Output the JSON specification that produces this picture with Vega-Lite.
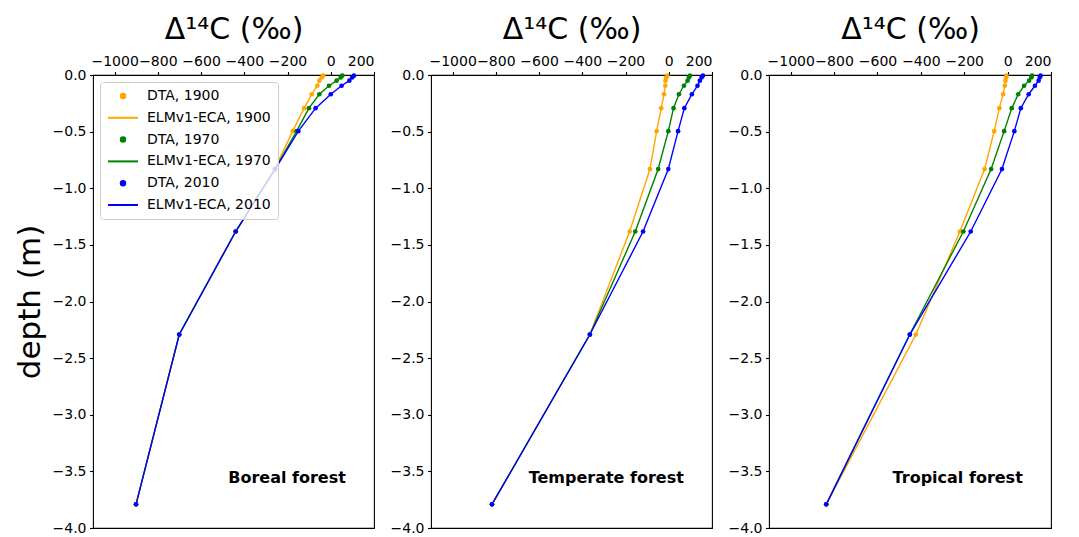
{
  "$schema": "https://vega.github.io/schema/vega-lite/v6.json",
  "padding": {"left": 13, "top": 13, "right": 5, "bottom": 5},
  "background": "white",
  "config": {
    "font": "DejaVu Sans",
    "view": {"stroke": "black", "strokeWidth": 1.1},
    "axis": {
      "domain": false, "grid": false, "tickColor": "black", "tickSize": 3.5, "tickWidth": 1.1,
      "labelFont": "DejaVu Sans", "labelFontSize": 14, "labelColor": "black", "labelPadding": 3.5,
      "titleFont": "DejaVu Sans", "titleFontSize": 30, "titleFontWeight": "normal", "titleColor": "black"
    },
    "text": {"font": "DejaVu Sans"}
  },
  "datasets": {
    "profiles": [
      {"site":"boreal","year":1900,"dta":"DTA, 1900","elm":"ELMv1-ECA, 1900","depth":-0.0057,"d14c":-35},
      {"site":"boreal","year":1900,"dta":"DTA, 1900","elm":"ELMv1-ECA, 1900","depth":-0.0223,"d14c":-42},
      {"site":"boreal","year":1900,"dta":"DTA, 1900","elm":"ELMv1-ECA, 1900","depth":-0.0498,"d14c":-53},
      {"site":"boreal","year":1900,"dta":"DTA, 1900","elm":"ELMv1-ECA, 1900","depth":-0.0951,"d14c":-62},
      {"site":"boreal","year":1900,"dta":"DTA, 1900","elm":"ELMv1-ECA, 1900","depth":-0.1698,"d14c":-88},
      {"site":"boreal","year":1900,"dta":"DTA, 1900","elm":"ELMv1-ECA, 1900","depth":-0.2929,"d14c":-123},
      {"site":"boreal","year":1900,"dta":"DTA, 1900","elm":"ELMv1-ECA, 1900","depth":-0.4958,"d14c":-176},
      {"site":"boreal","year":1900,"dta":"DTA, 1900","elm":"ELMv1-ECA, 1900","depth":-0.8304,"d14c":-260},
      {"site":"boreal","year":1900,"dta":"DTA, 1900","elm":"ELMv1-ECA, 1900","depth":-1.3821,"d14c":-440},
      {"site":"boreal","year":1900,"dta":"DTA, 1900","elm":"ELMv1-ECA, 1900","depth":-2.2917,"d14c":-701},
      {"site":"boreal","year":1900,"dta":"DTA, 1900","elm":"ELMv1-ECA, 1900","depth":-3.7913,"d14c":-901},
      {"site":"boreal","year":1970,"dta":"DTA, 1970","elm":"ELMv1-ECA, 1970","depth":-0.0057,"d14c":53},
      {"site":"boreal","year":1970,"dta":"DTA, 1970","elm":"ELMv1-ECA, 1970","depth":-0.0223,"d14c":46},
      {"site":"boreal","year":1970,"dta":"DTA, 1970","elm":"ELMv1-ECA, 1970","depth":-0.0498,"d14c":27},
      {"site":"boreal","year":1970,"dta":"DTA, 1970","elm":"ELMv1-ECA, 1970","depth":-0.0951,"d14c":-8},
      {"site":"boreal","year":1970,"dta":"DTA, 1970","elm":"ELMv1-ECA, 1970","depth":-0.1698,"d14c":-53},
      {"site":"boreal","year":1970,"dta":"DTA, 1970","elm":"ELMv1-ECA, 1970","depth":-0.2929,"d14c":-101},
      {"site":"boreal","year":1970,"dta":"DTA, 1970","elm":"ELMv1-ECA, 1970","depth":-0.4958,"d14c":-158},
      {"site":"boreal","year":1970,"dta":"DTA, 1970","elm":"ELMv1-ECA, 1970","depth":-0.8304,"d14c":-258},
      {"site":"boreal","year":1970,"dta":"DTA, 1970","elm":"ELMv1-ECA, 1970","depth":-1.3821,"d14c":-440},
      {"site":"boreal","year":1970,"dta":"DTA, 1970","elm":"ELMv1-ECA, 1970","depth":-2.2917,"d14c":-701},
      {"site":"boreal","year":1970,"dta":"DTA, 1970","elm":"ELMv1-ECA, 1970","depth":-3.7913,"d14c":-901},
      {"site":"boreal","year":2010,"dta":"DTA, 2010","elm":"ELMv1-ECA, 2010","depth":-0.0057,"d14c":107},
      {"site":"boreal","year":2010,"dta":"DTA, 2010","elm":"ELMv1-ECA, 2010","depth":-0.0223,"d14c":99},
      {"site":"boreal","year":2010,"dta":"DTA, 2010","elm":"ELMv1-ECA, 2010","depth":-0.0498,"d14c":86},
      {"site":"boreal","year":2010,"dta":"DTA, 2010","elm":"ELMv1-ECA, 2010","depth":-0.0951,"d14c":50},
      {"site":"boreal","year":2010,"dta":"DTA, 2010","elm":"ELMv1-ECA, 2010","depth":-0.1698,"d14c":0},
      {"site":"boreal","year":2010,"dta":"DTA, 2010","elm":"ELMv1-ECA, 2010","depth":-0.2929,"d14c":-70},
      {"site":"boreal","year":2010,"dta":"DTA, 2010","elm":"ELMv1-ECA, 2010","depth":-0.4958,"d14c":-150},
      {"site":"boreal","year":2010,"dta":"DTA, 2010","elm":"ELMv1-ECA, 2010","depth":-0.8304,"d14c":-257},
      {"site":"boreal","year":2010,"dta":"DTA, 2010","elm":"ELMv1-ECA, 2010","depth":-1.3821,"d14c":-440},
      {"site":"boreal","year":2010,"dta":"DTA, 2010","elm":"ELMv1-ECA, 2010","depth":-2.2917,"d14c":-701},
      {"site":"boreal","year":2010,"dta":"DTA, 2010","elm":"ELMv1-ECA, 2010","depth":-3.7913,"d14c":-901},
      {"site":"temperate","year":1900,"dta":"DTA, 1900","elm":"ELMv1-ECA, 1900","depth":-0.0057,"d14c":-7},
      {"site":"temperate","year":1900,"dta":"DTA, 1900","elm":"ELMv1-ECA, 1900","depth":-0.0223,"d14c":-12},
      {"site":"temperate","year":1900,"dta":"DTA, 1900","elm":"ELMv1-ECA, 1900","depth":-0.0498,"d14c":-15},
      {"site":"temperate","year":1900,"dta":"DTA, 1900","elm":"ELMv1-ECA, 1900","depth":-0.0951,"d14c":-16},
      {"site":"temperate","year":1900,"dta":"DTA, 1900","elm":"ELMv1-ECA, 1900","depth":-0.1698,"d14c":-22},
      {"site":"temperate","year":1900,"dta":"DTA, 1900","elm":"ELMv1-ECA, 1900","depth":-0.2929,"d14c":-35},
      {"site":"temperate","year":1900,"dta":"DTA, 1900","elm":"ELMv1-ECA, 1900","depth":-0.4958,"d14c":-56},
      {"site":"temperate","year":1900,"dta":"DTA, 1900","elm":"ELMv1-ECA, 1900","depth":-0.8304,"d14c":-87},
      {"site":"temperate","year":1900,"dta":"DTA, 1900","elm":"ELMv1-ECA, 1900","depth":-1.3821,"d14c":-181},
      {"site":"temperate","year":1900,"dta":"DTA, 1900","elm":"ELMv1-ECA, 1900","depth":-2.2917,"d14c":-365},
      {"site":"temperate","year":1900,"dta":"DTA, 1900","elm":"ELMv1-ECA, 1900","depth":-3.7913,"d14c":-818},
      {"site":"temperate","year":1970,"dta":"DTA, 1970","elm":"ELMv1-ECA, 1970","depth":-0.0057,"d14c":98},
      {"site":"temperate","year":1970,"dta":"DTA, 1970","elm":"ELMv1-ECA, 1970","depth":-0.0223,"d14c":93},
      {"site":"temperate","year":1970,"dta":"DTA, 1970","elm":"ELMv1-ECA, 1970","depth":-0.0498,"d14c":87},
      {"site":"temperate","year":1970,"dta":"DTA, 1970","elm":"ELMv1-ECA, 1970","depth":-0.0951,"d14c":70},
      {"site":"temperate","year":1970,"dta":"DTA, 1970","elm":"ELMv1-ECA, 1970","depth":-0.1698,"d14c":47},
      {"site":"temperate","year":1970,"dta":"DTA, 1970","elm":"ELMv1-ECA, 1970","depth":-0.2929,"d14c":22},
      {"site":"temperate","year":1970,"dta":"DTA, 1970","elm":"ELMv1-ECA, 1970","depth":-0.4958,"d14c":-2},
      {"site":"temperate","year":1970,"dta":"DTA, 1970","elm":"ELMv1-ECA, 1970","depth":-0.8304,"d14c":-49},
      {"site":"temperate","year":1970,"dta":"DTA, 1970","elm":"ELMv1-ECA, 1970","depth":-1.3821,"d14c":-155},
      {"site":"temperate","year":1970,"dta":"DTA, 1970","elm":"ELMv1-ECA, 1970","depth":-2.2917,"d14c":-365},
      {"site":"temperate","year":1970,"dta":"DTA, 1970","elm":"ELMv1-ECA, 1970","depth":-3.7913,"d14c":-818},
      {"site":"temperate","year":2010,"dta":"DTA, 2010","elm":"ELMv1-ECA, 2010","depth":-0.0057,"d14c":158},
      {"site":"temperate","year":2010,"dta":"DTA, 2010","elm":"ELMv1-ECA, 2010","depth":-0.0223,"d14c":152},
      {"site":"temperate","year":2010,"dta":"DTA, 2010","elm":"ELMv1-ECA, 2010","depth":-0.0498,"d14c":144},
      {"site":"temperate","year":2010,"dta":"DTA, 2010","elm":"ELMv1-ECA, 2010","depth":-0.0951,"d14c":133},
      {"site":"temperate","year":2010,"dta":"DTA, 2010","elm":"ELMv1-ECA, 2010","depth":-0.1698,"d14c":107},
      {"site":"temperate","year":2010,"dta":"DTA, 2010","elm":"ELMv1-ECA, 2010","depth":-0.2929,"d14c":72},
      {"site":"temperate","year":2010,"dta":"DTA, 2010","elm":"ELMv1-ECA, 2010","depth":-0.4958,"d14c":43},
      {"site":"temperate","year":2010,"dta":"DTA, 2010","elm":"ELMv1-ECA, 2010","depth":-0.8304,"d14c":-2},
      {"site":"temperate","year":2010,"dta":"DTA, 2010","elm":"ELMv1-ECA, 2010","depth":-1.3821,"d14c":-119},
      {"site":"temperate","year":2010,"dta":"DTA, 2010","elm":"ELMv1-ECA, 2010","depth":-2.2917,"d14c":-365},
      {"site":"temperate","year":2010,"dta":"DTA, 2010","elm":"ELMv1-ECA, 2010","depth":-3.7913,"d14c":-818},
      {"site":"tropical","year":1900,"dta":"DTA, 1900","elm":"ELMv1-ECA, 1900","depth":-0.0057,"d14c":-5},
      {"site":"tropical","year":1900,"dta":"DTA, 1900","elm":"ELMv1-ECA, 1900","depth":-0.0223,"d14c":-7},
      {"site":"tropical","year":1900,"dta":"DTA, 1900","elm":"ELMv1-ECA, 1900","depth":-0.0498,"d14c":-10},
      {"site":"tropical","year":1900,"dta":"DTA, 1900","elm":"ELMv1-ECA, 1900","depth":-0.0951,"d14c":-13},
      {"site":"tropical","year":1900,"dta":"DTA, 1900","elm":"ELMv1-ECA, 1900","depth":-0.1698,"d14c":-21},
      {"site":"tropical","year":1900,"dta":"DTA, 1900","elm":"ELMv1-ECA, 1900","depth":-0.2929,"d14c":-38},
      {"site":"tropical","year":1900,"dta":"DTA, 1900","elm":"ELMv1-ECA, 1900","depth":-0.4958,"d14c":-62},
      {"site":"tropical","year":1900,"dta":"DTA, 1900","elm":"ELMv1-ECA, 1900","depth":-0.8304,"d14c":-106},
      {"site":"tropical","year":1900,"dta":"DTA, 1900","elm":"ELMv1-ECA, 1900","depth":-1.3821,"d14c":-220},
      {"site":"tropical","year":1900,"dta":"DTA, 1900","elm":"ELMv1-ECA, 1900","depth":-2.2917,"d14c":-423},
      {"site":"tropical","year":1900,"dta":"DTA, 1900","elm":"ELMv1-ECA, 1900","depth":-3.7913,"d14c":-836},
      {"site":"tropical","year":1970,"dta":"DTA, 1970","elm":"ELMv1-ECA, 1970","depth":-0.0057,"d14c":113},
      {"site":"tropical","year":1970,"dta":"DTA, 1970","elm":"ELMv1-ECA, 1970","depth":-0.0223,"d14c":109},
      {"site":"tropical","year":1970,"dta":"DTA, 1970","elm":"ELMv1-ECA, 1970","depth":-0.0498,"d14c":99},
      {"site":"tropical","year":1970,"dta":"DTA, 1970","elm":"ELMv1-ECA, 1970","depth":-0.0951,"d14c":76},
      {"site":"tropical","year":1970,"dta":"DTA, 1970","elm":"ELMv1-ECA, 1970","depth":-0.1698,"d14c":49},
      {"site":"tropical","year":1970,"dta":"DTA, 1970","elm":"ELMv1-ECA, 1970","depth":-0.2929,"d14c":19},
      {"site":"tropical","year":1970,"dta":"DTA, 1970","elm":"ELMv1-ECA, 1970","depth":-0.4958,"d14c":-16},
      {"site":"tropical","year":1970,"dta":"DTA, 1970","elm":"ELMv1-ECA, 1970","depth":-0.8304,"d14c":-76},
      {"site":"tropical","year":1970,"dta":"DTA, 1970","elm":"ELMv1-ECA, 1970","depth":-1.3821,"d14c":-204},
      {"site":"tropical","year":1970,"dta":"DTA, 1970","elm":"ELMv1-ECA, 1970","depth":-2.2917,"d14c":-451},
      {"site":"tropical","year":1970,"dta":"DTA, 1970","elm":"ELMv1-ECA, 1970","depth":-3.7913,"d14c":-836},
      {"site":"tropical","year":2010,"dta":"DTA, 2010","elm":"ELMv1-ECA, 2010","depth":-0.0057,"d14c":152},
      {"site":"tropical","year":2010,"dta":"DTA, 2010","elm":"ELMv1-ECA, 2010","depth":-0.0223,"d14c":148},
      {"site":"tropical","year":2010,"dta":"DTA, 2010","elm":"ELMv1-ECA, 2010","depth":-0.0498,"d14c":143},
      {"site":"tropical","year":2010,"dta":"DTA, 2010","elm":"ELMv1-ECA, 2010","depth":-0.0951,"d14c":126},
      {"site":"tropical","year":2010,"dta":"DTA, 2010","elm":"ELMv1-ECA, 2010","depth":-0.1698,"d14c":97},
      {"site":"tropical","year":2010,"dta":"DTA, 2010","elm":"ELMv1-ECA, 2010","depth":-0.2929,"d14c":61},
      {"site":"tropical","year":2010,"dta":"DTA, 2010","elm":"ELMv1-ECA, 2010","depth":-0.4958,"d14c":31},
      {"site":"tropical","year":2010,"dta":"DTA, 2010","elm":"ELMv1-ECA, 2010","depth":-0.8304,"d14c":-26},
      {"site":"tropical","year":2010,"dta":"DTA, 2010","elm":"ELMv1-ECA, 2010","depth":-1.3821,"d14c":-170},
      {"site":"tropical","year":2010,"dta":"DTA, 2010","elm":"ELMv1-ECA, 2010","depth":-2.2917,"d14c":-451},
      {"site":"tropical","year":2010,"dta":"DTA, 2010","elm":"ELMv1-ECA, 2010","depth":-3.7913,"d14c":-836}
    ],
    "sites": [
      {"site":"boreal","name":"Boreal forest"},
      {"site":"temperate","name":"Temperate forest"},
      {"site":"tropical","name":"Tropical forest"}
    ]
  },
  "bounds": "flush",
  "spacing": 57,
  "resolve": {"scale": {"color": "independent"}, "legend": {"color": "independent"}},
  "hconcat": [
    {
      "width": 281, "height": 453,
      "layer": [
        {
          "data": {"name": "profiles"},
          "transform": [{"filter": "datum.site === 'boreal'"}],
          "mark": {"type": "line", "strokeWidth": 1.4},
          "encoding": {
            "x": {"field": "d14c", "type": "quantitative", "scale": {"domain": [-1100, 200], "nice": false, "zero": false},
                  "axis": {"orient": "top", "values": [-1000, -800, -600, -400, -200, 0, 200], "format": "d", "title": "Δ¹⁴C (‰)", "titlePadding": 10}},
            "y": {"field": "depth", "type": "quantitative", "scale": {"domain": [-4, 0], "nice": false, "zero": false},
                  "axis": {"values": [0, -0.5, -1, -1.5, -2, -2.5, -3, -3.5, -4], "format": ".1f", "title": "depth (m)", "titlePadding": 6, "titleFontSize": 31}},
            "color": {"field": "elm", "type": "nominal",
                      "scale": {"domain": ["DTA, 1900", "ELMv1-ECA, 1900", "DTA, 1970", "ELMv1-ECA, 1970", "DTA, 2010", "ELMv1-ECA, 2010"],
                                "range": ["orange", "orange", "green", "green", "blue", "blue"]},
                      "legend": {
                        "title": null, "orient": "top-left", "offset": 7, "padding": 7, "rowPadding": 7.8,
                        "labelFont": "DejaVu Sans", "labelFontSize": 14, "labelColor": "black",
                        "fillColor": "rgba(255,255,255,0.8)", "strokeColor": "#cccccc", "cornerRadius": 3,
                        "symbolSize": 100, "symbolOffset": 9, "labelOffset": 17,
                        "encode": {"symbols": {"update": {
                          "shape": {"signal": "datum.index % 2 === 1 ? 'stroke' : 'circle'"},
                          "size": {"signal": "datum.index % 2 === 1 ? 900 : 20"},
                          "fill": {"signal": "datum.index % 2 === 1 ? 'transparent' : ['orange','orange','green','green','blue','blue'][datum.index]"},
                          "stroke": {"signal": "datum.index % 2 === 1 ? ['orange','orange','green','green','blue','blue'][datum.index] : 'transparent'"},
                          "strokeWidth": {"value": 2},
                          "opacity": {"value": 1}
                        }}}
                      }},
            "order": {"field": "depth", "sort": "descending"}
          }
        },
        {
          "data": {"name": "profiles"},
          "transform": [{"filter": "datum.site === 'boreal'"}],
          "mark": {"type": "point", "filled": true, "size": 22, "opacity": 1},
          "encoding": {
            "x": {"field": "d14c", "type": "quantitative"},
            "y": {"field": "depth", "type": "quantitative"},
            "color": {"field": "dta", "type": "nominal"}
          }
        },
        {
          "data": {"name": "sites"},
          "transform": [{"filter": "datum.site === 'boreal'"}],
          "mark": {"type": "text", "align": "right", "baseline": "middle", "fontWeight": "bold", "fontSize": 16, "color": "black"},
          "encoding": {
            "x": {"datum": 70, "type": "quantitative"},
            "y": {"datum": -3.56, "type": "quantitative"},
            "text": {"field": "name"}
          }
        }
      ]
    },
    {
      "width": 281, "height": 453,
      "layer": [
        {
          "data": {"name": "profiles"},
          "transform": [{"filter": "datum.site === 'temperate'"}],
          "mark": {"type": "line", "strokeWidth": 1.4},
          "encoding": {
            "x": {"field": "d14c", "type": "quantitative", "scale": {"domain": [-1100, 200], "nice": false, "zero": false},
                  "axis": {"orient": "top", "values": [-1000, -800, -600, -400, -200, 0, 200], "format": "d", "title": "Δ¹⁴C (‰)", "titlePadding": 10}},
            "y": {"field": "depth", "type": "quantitative", "scale": {"domain": [-4, 0], "nice": false, "zero": false},
                  "axis": {"values": [0, -0.5, -1, -1.5, -2, -2.5, -3, -3.5, -4], "format": ".1f", "title": null}},
            "color": {"field": "elm", "type": "nominal",
                      "scale": {"domain": ["DTA, 1900", "ELMv1-ECA, 1900", "DTA, 1970", "ELMv1-ECA, 1970", "DTA, 2010", "ELMv1-ECA, 2010"],
                                "range": ["orange", "orange", "green", "green", "blue", "blue"]},
                      "legend": null},
            "order": {"field": "depth", "sort": "descending"}
          }
        },
        {
          "data": {"name": "profiles"},
          "transform": [{"filter": "datum.site === 'temperate'"}],
          "mark": {"type": "point", "filled": true, "size": 22, "opacity": 1},
          "encoding": {
            "x": {"field": "d14c", "type": "quantitative"},
            "y": {"field": "depth", "type": "quantitative"},
            "color": {"field": "dta", "type": "nominal", "legend": null}
          }
        },
        {
          "data": {"name": "sites"},
          "transform": [{"filter": "datum.site === 'temperate'"}],
          "mark": {"type": "text", "align": "right", "baseline": "middle", "fontWeight": "bold", "fontSize": 16, "color": "black"},
          "encoding": {
            "x": {"datum": 70, "type": "quantitative"},
            "y": {"datum": -3.56, "type": "quantitative"},
            "text": {"field": "name"}
          }
        }
      ]
    },
    {
      "width": 282, "height": 453,
      "layer": [
        {
          "data": {"name": "profiles"},
          "transform": [{"filter": "datum.site === 'tropical'"}],
          "mark": {"type": "line", "strokeWidth": 1.4},
          "encoding": {
            "x": {"field": "d14c", "type": "quantitative", "scale": {"domain": [-1100, 200], "nice": false, "zero": false},
                  "axis": {"orient": "top", "values": [-1000, -800, -600, -400, -200, 0, 200], "format": "d", "title": "Δ¹⁴C (‰)", "titlePadding": 10}},
            "y": {"field": "depth", "type": "quantitative", "scale": {"domain": [-4, 0], "nice": false, "zero": false},
                  "axis": {"values": [0, -0.5, -1, -1.5, -2, -2.5, -3, -3.5, -4], "format": ".1f", "title": null}},
            "color": {"field": "elm", "type": "nominal",
                      "scale": {"domain": ["DTA, 1900", "ELMv1-ECA, 1900", "DTA, 1970", "ELMv1-ECA, 1970", "DTA, 2010", "ELMv1-ECA, 2010"],
                                "range": ["orange", "orange", "green", "green", "blue", "blue"]},
                      "legend": null},
            "order": {"field": "depth", "sort": "descending"}
          }
        },
        {
          "data": {"name": "profiles"},
          "transform": [{"filter": "datum.site === 'tropical'"}],
          "mark": {"type": "point", "filled": true, "size": 22, "opacity": 1},
          "encoding": {
            "x": {"field": "d14c", "type": "quantitative"},
            "y": {"field": "depth", "type": "quantitative"},
            "color": {"field": "dta", "type": "nominal", "legend": null}
          }
        },
        {
          "data": {"name": "sites"},
          "transform": [{"filter": "datum.site === 'tropical'"}],
          "mark": {"type": "text", "align": "right", "baseline": "middle", "fontWeight": "bold", "fontSize": 16, "color": "black"},
          "encoding": {
            "x": {"datum": 70, "type": "quantitative"},
            "y": {"datum": -3.56, "type": "quantitative"},
            "text": {"field": "name"}
          }
        }
      ]
    }
  ]
}
